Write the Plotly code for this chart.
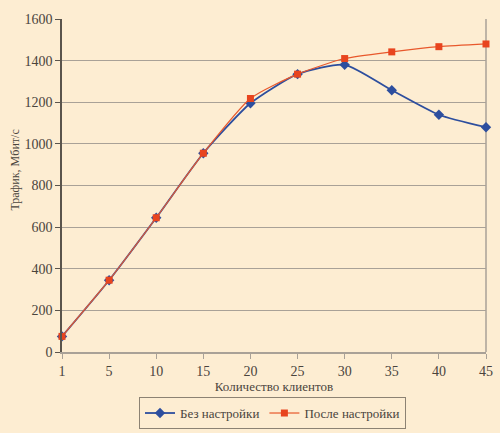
import plotly.graph_objects as go

clients = ["1", "5", "10", "15", "20", "25", "30", "35", "40", "45"]
before_tuning = [75, 345, 645, 955, 1195, 1335, 1380, 1258, 1140, 1080]
after_tuning = [75, 345, 645, 955, 1218, 1335, 1410, 1442, 1467, 1480]

BG = "#FDEDD2"
GRID = "#A9A197"
FONT = "Liberation Serif"

fig = go.Figure()
fig.add_trace(
    go.Scatter(
        x=clients,
        y=before_tuning,
        mode="lines+markers",
        name="Без настройки",
        line=dict(color="#2D4E9E", width=1.8, shape="spline", smoothing=0.6),
        marker=dict(symbol="diamond", size=8, color="#2D4E9E"),
        cliponaxis=False,
    )
)
fig.add_trace(
    go.Scatter(
        x=clients,
        y=after_tuning,
        mode="lines+markers",
        name="После настройки",
        line=dict(color="#E8582C", width=1.2, shape="spline", smoothing=0.6),
        marker=dict(symbol="square", size=7, color="#E8441E"),
        cliponaxis=False,
    )
)

fig.update_layout(
    width=500,
    height=433,
    paper_bgcolor=BG,
    plot_bgcolor=BG,
    margin=dict(l=62, r=14, t=19, b=81, autoexpand=False),
    font=dict(family=FONT, size=13, color="#4A443D"),
    legend=dict(
        orientation="h",
        x=0.545,
        xanchor="center",
        xref="container",
        y=0.083,
        yanchor="top",
        yref="container",
        bordercolor="#8C8273",
        borderwidth=1,
        bgcolor=BG,
        font=dict(size=13),
        itemwidth=30,
    ),
    xaxis=dict(
        type="category",
        range=[0, 9],
        automargin=False,
        showgrid=False,
        showline=True,
        linecolor=GRID,
        linewidth=1.5,
        ticks="outside",
        ticklen=5,
        tickcolor=GRID,
        title=dict(text="Количество клиентов", standoff=2, font=dict(size=13)),
        tickfont=dict(size=14),
    ),
    yaxis=dict(
        range=[0, 1600],
        dtick=200,
        automargin=False,
        showgrid=True,
        gridcolor=GRID,
        gridwidth=1.2,
        zeroline=False,
        showline=True,
        linecolor="#5A544C",
        linewidth=1.5,
        ticks="outside",
        ticklen=5,
        tickcolor="#5A544C",
        tickfont=dict(size=14),
    ),
    annotations=[
        dict(
            text="Трафик, Мбит/с",
            textangle=-90,
            xref="paper",
            yref="paper",
            x=-0.113,
            y=0.545,
            xanchor="center",
            yanchor="middle",
            showarrow=False,
            font=dict(size=12),
        )
    ],
    shapes=[
        dict(
            type="line",
            xref="x domain",
            yref="y domain",
            x0=1,
            x1=1,
            y0=0,
            y1=1,
            line=dict(color=GRID, width=1.5),
            layer="below",
        )
    ],
)

# the page body has a default margin; drop it so the figure fills the window
fig.write_html(
    "out.html",
    config={"displayModeBar": False},
    post_script="document.body.style.margin = '0';",
)
